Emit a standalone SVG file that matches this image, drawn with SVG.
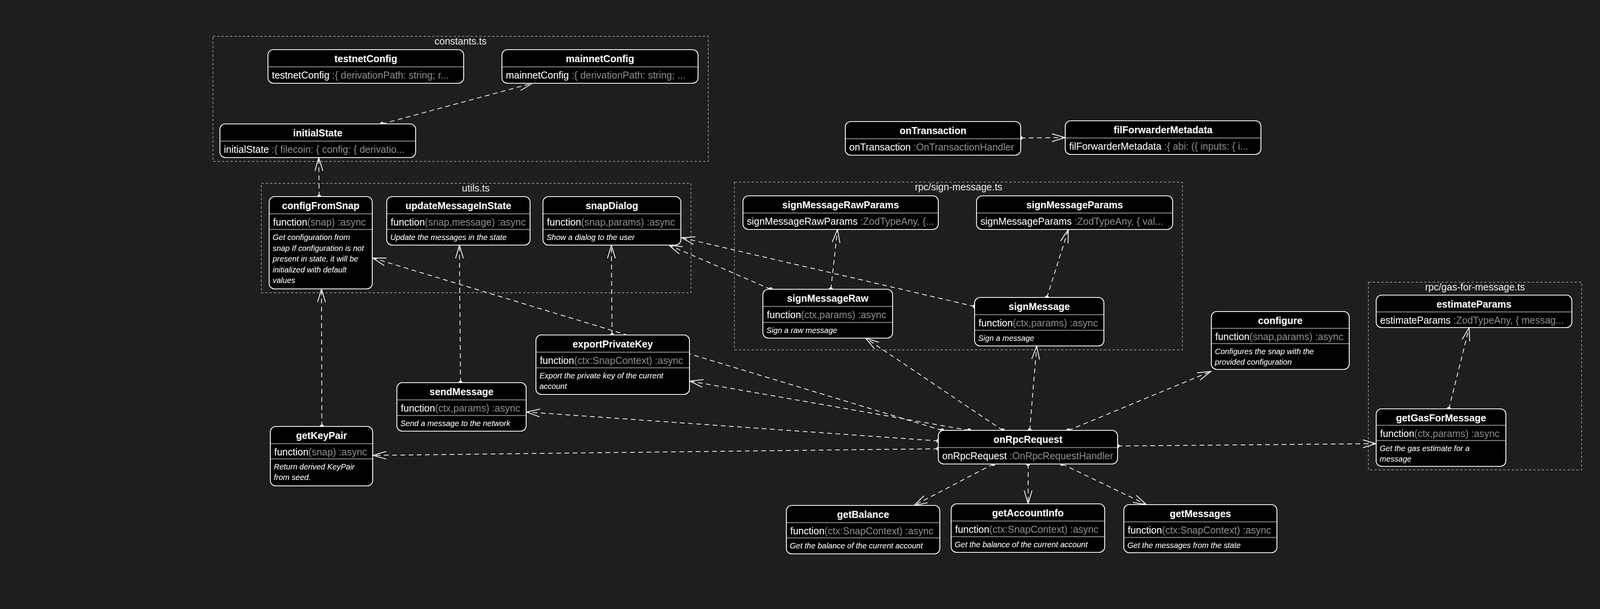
<svg xmlns="http://www.w3.org/2000/svg" width="4166" height="1558" viewBox="0 0 4166 1558">
<style>
.bg{fill:#1e1e1e}
.grp{fill:none;stroke:#8a8a8a;stroke-width:2;stroke-dasharray:6 5}
.glabel{font-family:"Liberation Sans",Arial,sans-serif;font-size:25px;fill:#e8e8e8;text-anchor:middle}
.box{fill:#000;stroke:#fff;stroke-width:2.2}
.sep{stroke:#808080;stroke-width:2.5}
.title{font-family:"Liberation Sans",Arial,sans-serif;font-weight:bold;font-size:25px;fill:#fff;text-anchor:middle}
.field{font-family:"Liberation Sans",Arial,sans-serif;font-size:25px;fill:#fff}
.type{fill:#8c8c8c}
.desc{font-family:"Liberation Sans",Arial,sans-serif;font-style:italic;font-size:20px;fill:#fff}
.edge{fill:none;stroke:#f2f2f2;stroke-width:2;stroke-dasharray:12 9;marker-start:url(#dot);marker-end:url(#arrow)}
</style>
<defs>
<marker id="arrow" markerUnits="userSpaceOnUse" markerWidth="40" markerHeight="24" viewBox="-36 -12 40 24" refX="0" refY="0" orient="auto" overflow="visible">
<path d="M-34,-10 L0,0 L-34,10" fill="none" stroke="#fff" stroke-width="2" stroke-dasharray="none"/>
</marker>
<marker id="dot" markerUnits="userSpaceOnUse" markerWidth="12" markerHeight="12" viewBox="-6 -6 12 12" refX="0" refY="0" overflow="visible">
<circle r="5" fill="#fff"/>
</marker>
</defs>
<rect class="bg" x="0" y="0" width="4166" height="1558"/>

<g id="clusters">
<g id="cluster-constants"><rect class="grp" x="545" y="93" width="1268" height="320"/><text class="glabel" x="1179" y="114">constants.ts</text></g>
<g id="cluster-utils"><rect class="grp" x="669" y="469" width="1100" height="280"/><text class="glabel" x="1218" y="490">utils.ts</text></g>
<g id="cluster-sign-message"><rect class="grp" x="1880" y="466" width="1147" height="429"/><text class="glabel" x="2454" y="487">rpc/sign-message.ts</text></g>
<g id="cluster-gas-for-message"><rect class="grp" x="3503" y="722" width="546" height="480"/><text class="glabel" x="3776" y="743">rpc/gas-for-message.ts</text></g>
</g>

<g id="connectors">
<path class="edge" d="M978,317 L1363,213"/>
<path class="edge" d="M817,503 L816,403"/>
<path class="edge" d="M824,1091 L823,739"/>
<path class="edge" d="M1179,979 L1176,627"/>
<path class="edge" d="M1567,857 L1565,627"/>
<path class="edge" d="M1973,740 L1712,627"/>
<path class="edge" d="M2495,784 L1745,608"/>
<path class="edge" d="M2127,740 L2144,587"/>
<path class="edge" d="M2680,761 L2735,587"/>
<path class="edge" d="M2613,353 L2727,352"/>
<path class="edge" d="M3709,1046 L3761,838"/>
<path class="edge" d="M2412,1101 L954,660"/>
<path class="edge" d="M2481,1101 L1766,975"/>
<path class="edge" d="M2402,1128 L1348,1054"/>
<path class="edge" d="M2402,1148 L955,1165"/>
<path class="edge" d="M2567,1101 L2216,865"/>
<path class="edge" d="M2636,1101 L2654,885"/>
<path class="edge" d="M2735,1101 L3100,950"/>
<path class="edge" d="M2861,1141 L3523,1135"/>
<path class="edge" d="M2543,1187 L2340,1293"/>
<path class="edge" d="M2632,1187 L2632,1289"/>
<path class="edge" d="M2719,1187 L2935,1291"/>
</g>

<g id="testnetConfig">
<rect class="box" x="686" y="127" width="501" height="86" rx="14"/>
<line class="sep" x1="687" y1="171" x2="1186" y2="171"/>
<text class="title" x="936.5" y="159">testnetConfig</text>
<text class="field" x="696" y="201">testnetConfig<tspan class="type"> :{ derivationPath: string; r...</tspan></text>
</g>
<g id="mainnetConfig">
<rect class="box" x="1285" y="127" width="502" height="86" rx="14"/>
<line class="sep" x1="1286" y1="171" x2="1786" y2="171"/>
<text class="title" x="1536" y="159">mainnetConfig</text>
<text class="field" x="1295" y="201">mainnetConfig<tspan class="type"> :{ derivationPath: string; ...</tspan></text>
</g>
<g id="initialState">
<rect class="box" x="563" y="317" width="501" height="86" rx="14"/>
<line class="sep" x1="564" y1="361" x2="1063" y2="361"/>
<text class="title" x="813.5" y="349">initialState</text>
<text class="field" x="573" y="391">initialState<tspan class="type"> :{ filecoin: { config: { derivatio...</tspan></text>
</g>
<g id="configFromSnap">
<rect class="box" x="689" y="503" width="264" height="236" rx="14"/>
<line class="sep" x1="690" y1="547" x2="952" y2="547"/>
<line class="sep" x1="690" y1="587" x2="952" y2="587"/>
<text class="title" x="821" y="535">configFromSnap</text>
<text class="field" x="699" y="577">function<tspan class="type">(snap) :async</tspan></text>
<text class="desc" x="698" y="614">Get configuration from</text>
<text class="desc" x="698" y="641.5">snap If configuration is not</text>
<text class="desc" x="698" y="669">present in state, it will be</text>
<text class="desc" x="698" y="696.5">initialized with default</text>
<text class="desc" x="698" y="724">values</text>
</g>
<g id="updateMessageInState">
<rect class="box" x="990" y="503" width="367" height="124" rx="14"/>
<line class="sep" x1="991" y1="547" x2="1356" y2="547"/>
<line class="sep" x1="991" y1="587" x2="1356" y2="587"/>
<text class="title" x="1173.5" y="535">updateMessageInState</text>
<text class="field" x="1000" y="577">function<tspan class="type">(snap,message) :async</tspan></text>
<text class="desc" x="999" y="614">Update the messages in the state</text>
</g>
<g id="snapDialog">
<rect class="box" x="1390" y="503" width="353" height="124" rx="14"/>
<line class="sep" x1="1391" y1="547" x2="1742" y2="547"/>
<line class="sep" x1="1391" y1="587" x2="1742" y2="587"/>
<text class="title" x="1566.5" y="535">snapDialog</text>
<text class="field" x="1400" y="577">function<tspan class="type">(snap,params) :async</tspan></text>
<text class="desc" x="1399" y="614">Show a dialog to the user</text>
</g>
<g id="signMessageRawParams">
<rect class="box" x="1902" y="501" width="500" height="86" rx="14"/>
<line class="sep" x1="1903" y1="545" x2="2401" y2="545"/>
<text class="title" x="2152" y="533">signMessageRawParams</text>
<text class="field" x="1912" y="575">signMessageRawParams<tspan class="type"> :ZodTypeAny, {...</tspan></text>
</g>
<g id="signMessageParams">
<rect class="box" x="2500" y="501" width="502" height="86" rx="14"/>
<line class="sep" x1="2501" y1="545" x2="3001" y2="545"/>
<text class="title" x="2751" y="533">signMessageParams</text>
<text class="field" x="2510" y="575">signMessageParams<tspan class="type"> :ZodTypeAny, { val...</tspan></text>
</g>
<g id="signMessageRaw">
<rect class="box" x="1953" y="740" width="332" height="125" rx="14"/>
<line class="sep" x1="1954" y1="784" x2="2284" y2="784"/>
<line class="sep" x1="1954" y1="825" x2="2284" y2="825"/>
<text class="title" x="2119" y="772">signMessageRaw</text>
<text class="field" x="1963" y="814">function<tspan class="type">(ctx,params) :async</tspan></text>
<text class="desc" x="1962" y="852">Sign a raw message</text>
</g>
<g id="signMessage">
<rect class="box" x="2495" y="761" width="331" height="124" rx="14"/>
<line class="sep" x1="2496" y1="805" x2="2825" y2="805"/>
<line class="sep" x1="2496" y1="845" x2="2825" y2="845"/>
<text class="title" x="2660.5" y="793">signMessage</text>
<text class="field" x="2505" y="835">function<tspan class="type">(ctx,params) :async</tspan></text>
<text class="desc" x="2504" y="872">Sign a message</text>
</g>
<g id="onTransaction">
<rect class="box" x="2164" y="311" width="449" height="86" rx="14"/>
<line class="sep" x1="2165" y1="355" x2="2612" y2="355"/>
<text class="title" x="2388.5" y="343">onTransaction</text>
<text class="field" x="2174" y="385">onTransaction<tspan class="type"> :OnTransactionHandler</tspan></text>
</g>
<g id="filForwarderMetadata">
<rect class="box" x="2727" y="309" width="501" height="86" rx="14"/>
<line class="sep" x1="2728" y1="353" x2="3227" y2="353"/>
<text class="title" x="2977.5" y="341">filForwarderMetadata</text>
<text class="field" x="2737" y="383">filForwarderMetadata<tspan class="type"> :{ abi: ({ inputs: { i...</tspan></text>
</g>
<g id="configure">
<rect class="box" x="3101" y="797" width="353" height="148" rx="14"/>
<line class="sep" x1="3102" y1="840" x2="3453" y2="840"/>
<line class="sep" x1="3102" y1="879" x2="3453" y2="879"/>
<text class="title" x="3277.5" y="829">configure</text>
<text class="field" x="3111" y="870">function<tspan class="type">(snap,params) :async</tspan></text>
<text class="desc" x="3110" y="906">Configures the snap with the</text>
<text class="desc" x="3110" y="933">provided configuration</text>
</g>
<g id="estimateParams">
<rect class="box" x="3523" y="755" width="501" height="83" rx="14"/>
<line class="sep" x1="3524" y1="798" x2="4023" y2="798"/>
<text class="title" x="3773.5" y="787">estimateParams</text>
<text class="field" x="3533" y="828">estimateParams<tspan class="type"> :ZodTypeAny, { messag...</tspan></text>
</g>
<g id="getGasForMessage">
<rect class="box" x="3523" y="1046" width="332" height="147" rx="14"/>
<line class="sep" x1="3524" y1="1088" x2="3854" y2="1088"/>
<line class="sep" x1="3524" y1="1127" x2="3854" y2="1127"/>
<text class="title" x="3689" y="1078">getGasForMessage</text>
<text class="field" x="3533" y="1118">function<tspan class="type">(ctx,params) :async</tspan></text>
<text class="desc" x="3532" y="1154">Get the gas estimate for a</text>
<text class="desc" x="3532" y="1181">message</text>
</g>
<g id="exportPrivateKey">
<rect class="box" x="1372" y="857" width="393" height="152" rx="14"/>
<line class="sep" x1="1373" y1="901" x2="1764" y2="901"/>
<line class="sep" x1="1373" y1="941" x2="1764" y2="941"/>
<text class="title" x="1568.5" y="889">exportPrivateKey</text>
<text class="field" x="1382" y="931">function<tspan class="type">(ctx:SnapContext) :async</tspan></text>
<text class="desc" x="1381" y="968">Export the private key of the current</text>
<text class="desc" x="1381" y="995">account</text>
</g>
<g id="sendMessage">
<rect class="box" x="1016" y="979" width="331" height="124" rx="14"/>
<line class="sep" x1="1017" y1="1023" x2="1346" y2="1023"/>
<line class="sep" x1="1017" y1="1063" x2="1346" y2="1063"/>
<text class="title" x="1181.5" y="1011">sendMessage</text>
<text class="field" x="1026" y="1053">function<tspan class="type">(ctx,params) :async</tspan></text>
<text class="desc" x="1025" y="1090">Send a message to the network</text>
</g>
<g id="getKeyPair">
<rect class="box" x="692" y="1091" width="262" height="152" rx="14"/>
<line class="sep" x1="693" y1="1135" x2="953" y2="1135"/>
<line class="sep" x1="693" y1="1174" x2="953" y2="1174"/>
<text class="title" x="823" y="1123">getKeyPair</text>
<text class="field" x="702" y="1165">function<tspan class="type">(snap) :async</tspan></text>
<text class="desc" x="701" y="1201">Return derived KeyPair</text>
<text class="desc" x="701" y="1228">from seed.</text>
</g>
<g id="onRpcRequest">
<rect class="box" x="2402" y="1101" width="459" height="86" rx="14"/>
<line class="sep" x1="2403" y1="1145" x2="2860" y2="1145"/>
<text class="title" x="2631.5" y="1133">onRpcRequest</text>
<text class="field" x="2412" y="1175">onRpcRequest<tspan class="type"> :OnRpcRequestHandler</tspan></text>
</g>
<g id="getBalance">
<rect class="box" x="2013" y="1293" width="393" height="124" rx="14"/>
<line class="sep" x1="2014" y1="1337" x2="2405" y2="1337"/>
<line class="sep" x1="2014" y1="1376" x2="2405" y2="1376"/>
<text class="title" x="2209.5" y="1325">getBalance</text>
<text class="field" x="2023" y="1367">function<tspan class="type">(ctx:SnapContext) :async</tspan></text>
<text class="desc" x="2022" y="1403">Get the balance of the current account</text>
</g>
<g id="getAccountInfo">
<rect class="box" x="2435" y="1289" width="393" height="124" rx="14"/>
<line class="sep" x1="2436" y1="1333" x2="2827" y2="1333"/>
<line class="sep" x1="2436" y1="1373" x2="2827" y2="1373"/>
<text class="title" x="2631.5" y="1321">getAccountInfo</text>
<text class="field" x="2445" y="1363">function<tspan class="type">(ctx:SnapContext) :async</tspan></text>
<text class="desc" x="2444" y="1400">Get the balance of the current account</text>
</g>
<g id="getMessages">
<rect class="box" x="2877" y="1291" width="392" height="123" rx="14"/>
<line class="sep" x1="2878" y1="1335" x2="3268" y2="1335"/>
<line class="sep" x1="2878" y1="1375" x2="3268" y2="1375"/>
<text class="title" x="3073" y="1323">getMessages</text>
<text class="field" x="2887" y="1365">function<tspan class="type">(ctx:SnapContext) :async</tspan></text>
<text class="desc" x="2886" y="1402">Get the messages from the state</text>
</g>
</svg>
